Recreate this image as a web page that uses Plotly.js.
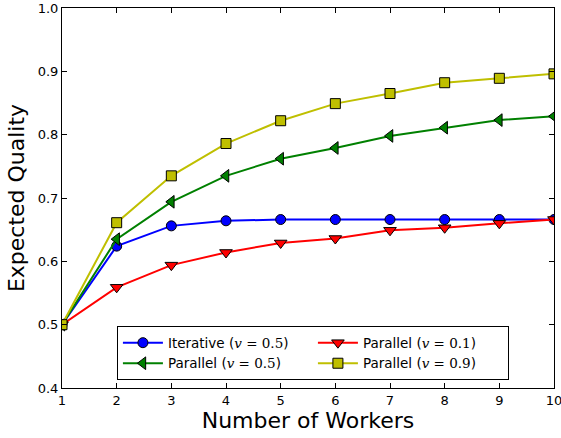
<!DOCTYPE html>
<html><head><meta charset="utf-8">
<script src="https://cdn.plot.ly/plotly-3.0.1.min.js"></script>
<style>body{margin:0;padding:0;background:#fff}#chart{width:561px;height:438px}</style>
</head><body><div id="chart"></div>
<script>
const workers = [1,2,3,4,5,6,7,8,9,10];
const iterative05 = [0.5,0.624,0.656,0.664,0.666,0.666,0.666,0.666,0.666,0.666];
const parallel01 = [0.5,0.559,0.594,0.614,0.629,0.636,0.649,0.653,0.660,0.666];
const parallel05 = [0.5,0.635,0.694,0.735,0.762,0.779,0.798,0.811,0.823,0.829];
const parallel09 = [0.5,0.661,0.735,0.786,0.822,0.849,0.865,0.882,0.889,0.896];
const yTicks = [0.4,0.5,0.6,0.7,0.8,0.9,1.0];

function math(val){return '(<span style="font-family:\'DejaVu Serif\',serif"><i>v</i> = ' + val + '</span>)';}
const series = [
  {name:'Iterative ' + math('0.5'), y:iterative05, color:'#0000ff', symbol:'circle', size:10},
  {name:'Parallel ' + math('0.1'), y:parallel01, color:'#ff0000', symbol:'triangle-down', size:11},
  {name:'Parallel ' + math('0.5'), y:parallel05, color:'#008000', symbol:'triangle-left', size:11},
  {name:'Parallel ' + math('0.9'), y:parallel09, color:'#bfbf00', symbol:'square', size:10}
];
const traces = series.map(s => ({
  x: workers, y: s.y, name: s.name, type:'scatter', mode:'lines+markers',
  line:{color:s.color, width:2},
  marker:{color:s.color, symbol:s.symbol, size:s.size, line:{color:'#000', width:1}}
}));
const axisCommon = {showline:true, linecolor:'#000', linewidth:1, mirror:'allticks', ticks:'inside', ticklen:5, tickcolor:'#000', showgrid:false, zeroline:false, ticklabeloverflow:'allow', tickfont:{family:'DejaVu Sans', size:13, color:'#000'}};
const layout = {
  width:561, height:438,
  margin:{l:62, r:7, t:8, b:50},
  paper_bgcolor:'#fff', plot_bgcolor:'#fff',
  showlegend:true,
  xaxis:Object.assign({}, axisCommon, {range:[1,10], tickvals:workers, title:{text:'Number of Workers', font:{family:'DejaVu Sans', size:22, color:'#000'}, standoff:6}}),
  yaxis:Object.assign({}, axisCommon, {range:[0.4,1.0], tickvals:yTicks, tickformat:'.1f', title:{text:'Expected Quality', font:{family:'DejaVu Sans', size:22, color:'#000'}, standoff:7}}),
  legend:{orientation:'h', x:0.51, xanchor:'center', y:0.02, yanchor:'bottom', bordercolor:'#000', borderwidth:1, bgcolor:'#fff', font:{family:'DejaVu Sans', size:13.5, color:'#000'}, entrywidth:140, entrywidthmode:'pixels', itemwidth:40, traceorder:'normal'}
};
Plotly.newPlot('chart', traces, layout, {displayModeBar:false, staticPlot:true});
</script></body></html>
